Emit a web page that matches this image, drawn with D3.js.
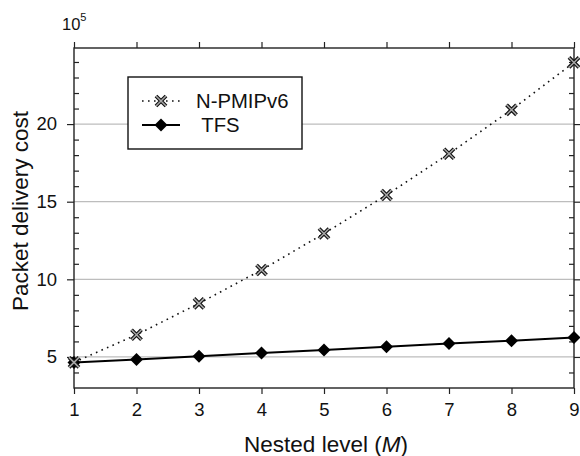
<!DOCTYPE html>
<html>
<head>
<meta charset="utf-8">
<script src="https://cdnjs.cloudflare.com/ajax/libs/d3/7.8.5/d3.min.js"></script>
<style>
body { margin: 0; background: #fff; }
text { font-family: "Liberation Sans", Arial, sans-serif; fill: #111; }
</style>
</head>
<body>
<script>
// data (values in units of 10^5)
var levels = [1, 2, 3, 4, 5, 6, 7, 8, 9];
var npmip = [4.65, 6.43, 8.45, 10.6, 12.95, 15.43, 18.09, 20.92, 23.97];
var tfs = [4.65, 4.83, 5.04, 5.26, 5.45, 5.66, 5.86, 6.05, 6.26];
var yMajor = [5, 10, 15, 20];
var yMinor = [4, 6, 7, 8, 9, 11, 12, 13, 14, 16, 17, 18, 19, 21, 22, 23, 24];
var seriesNames = ['N-PMIPv6', ' TFS'];

var width = 580, height = 456;
var plotLeft = 74, plotRight = 574, plotTop = 48, plotBottom = 388;

var svg = d3.select('body').append('svg')
    .attr('width', width)
    .attr('height', height);

var x = d3.scaleLinear().domain([1, 9]).range([plotLeft, plotRight]);
var y = d3.scaleLinear().domain([3, 24.9]).range([plotBottom, plotTop]);

// grid lines
svg.selectAll('.grid')
    .data(yMajor)
    .enter().append('line')
    .attr('x1', plotLeft).attr('x2', plotRight)
    .attr('y1', function (d) { return y(d); })
    .attr('y2', function (d) { return y(d); })
    .style('stroke', '#bdbdbd')
    .style('stroke-width', 1.2);

// axes: major ticks outward, minor inward
var axisStyle = function (g) {
    g.select('.domain').remove();
    g.selectAll('line').style('stroke', '#222').style('stroke-width', 1.2);
    g.selectAll('text').style('font-size', '18.5px').style('font-family', '"Liberation Sans", Arial, sans-serif');
};

svg.append('g')
    .attr('transform', 'translate(0,' + plotBottom + ')')
    .call(d3.axisBottom(x).tickValues(levels).tickFormat(d3.format('d')).tickSize(6).tickPadding(9))
    .call(axisStyle);

svg.append('g')
    .attr('transform', 'translate(0,' + plotTop + ')')
    .call(d3.axisTop(x).tickValues(levels).tickSize(6).tickFormat(''))
    .call(axisStyle);

svg.append('g')
    .attr('transform', 'translate(' + plotLeft + ',0)')
    .call(d3.axisLeft(y).tickValues(yMajor).tickSize(7).tickPadding(10))
    .call(axisStyle);

svg.append('g')
    .attr('transform', 'translate(' + plotLeft + ',0)')
    .call(d3.axisRight(y).tickValues(yMinor).tickSize(5).tickFormat(''))
    .call(axisStyle);

svg.append('g')
    .attr('transform', 'translate(' + plotRight + ',0)')
    .call(d3.axisRight(y).tickValues(yMajor).tickSize(6).tickFormat(''))
    .call(axisStyle);

svg.append('g')
    .attr('transform', 'translate(' + plotRight + ',0)')
    .call(d3.axisLeft(y).tickValues(yMinor).tickSize(5).tickFormat(''))
    .call(axisStyle);

// frame
svg.append('rect')
    .attr('x', plotLeft).attr('y', plotTop)
    .attr('width', plotRight - plotLeft).attr('height', plotBottom - plotTop)
    .style('fill', 'none')
    .style('stroke', '#222')
    .style('stroke-width', 1.4);

// 10^5
var exp = svg.append('text').attr('x', 62).attr('y', 30).style('font-size', '16.5px');
exp.append('tspan').text('10');
exp.append('tspan').attr('dy', -9).style('font-size', '11px').text('5');

// axis titles
svg.append('text')
    .attr('x', (plotLeft + plotRight) / 2 + 2)
    .attr('y', 452)
    .attr('text-anchor', 'middle')
    .style('font-size', '22.5px')
    .html('Nested level (<tspan font-style="italic">M</tspan>)');

svg.append('text')
    .attr('transform', 'translate(28,211) rotate(-90)')
    .attr('text-anchor', 'middle')
    .style('font-size', '22.5px')
    .text('Packet delivery cost');

var line = d3.line()
    .x(function (d, i) { return x(levels[i]); })
    .y(function (d) { return y(d); });

function drawCross(g, cx, cy) {
    var s = 5;
    var p = 'M' + (cx - s) + ',' + (cy - s) + 'L' + (cx + s) + ',' + (cy + s) +
        'M' + (cx - s) + ',' + (cy + s) + 'L' + (cx + s) + ',' + (cy - s);
    g.append('path').attr('d', p).style('stroke', '#111').style('stroke-width', 3.8).style('fill', 'none');
    g.append('path').attr('d', p).style('stroke', '#a8a8a8').style('stroke-width', 1.5).style('fill', 'none');
}

function drawDiamond(g, cx, cy) {
    var s = 6.5;
    g.append('path')
        .attr('d', 'M' + cx + ',' + (cy - s) + 'L' + (cx + s) + ',' + cy + 'L' + cx + ',' + (cy + s) + 'L' + (cx - s) + ',' + cy + 'Z')
        .style('fill', '#000');
}

// N-PMIPv6
svg.append('path')
    .datum(npmip)
    .attr('d', line)
    .style('fill', 'none')
    .style('stroke', '#111')
    .style('stroke-width', 1.6)
    .style('stroke-dasharray', '1.6,4.4');

// TFS
svg.append('path')
    .datum(tfs)
    .attr('d', line)
    .style('fill', 'none')
    .style('stroke', '#000')
    .style('stroke-width', 2);

var gm = svg.append('g');
tfs.forEach(function (d, i) { drawDiamond(gm, x(levels[i]), y(d)); });
npmip.forEach(function (d, i) { drawCross(gm, x(levels[i]), y(d)); });

// legend
var lg = svg.append('g');
lg.append('rect')
    .attr('x', 128).attr('y', 77)
    .attr('width', 174).attr('height', 72)
    .style('fill', '#fff')
    .style('stroke', '#111')
    .style('stroke-width', 1.4);

lg.append('line')
    .attr('x1', 142).attr('x2', 180).attr('y1', 101).attr('y2', 101)
    .style('stroke', '#111').style('stroke-width', 1.6).style('stroke-dasharray', '1.6,4.4');
drawCross(lg, 161, 101);
lg.append('line')
    .attr('x1', 142).attr('x2', 180).attr('y1', 125).attr('y2', 125)
    .style('stroke', '#000').style('stroke-width', 2);
drawDiamond(lg, 161, 125);

lg.selectAll('.lt')
    .data(seriesNames)
    .enter().append('text')
    .attr('x', 196)
    .attr('y', function (d, i) { return 101 + i * 24; })
    .attr('dy', '0.36em')
    .style('font-size', '20.3px')
    .style('white-space', 'pre')
    .attr('xml:space', 'preserve')
    .text(function (d) { return d; });
</script>
</body>
</html>
